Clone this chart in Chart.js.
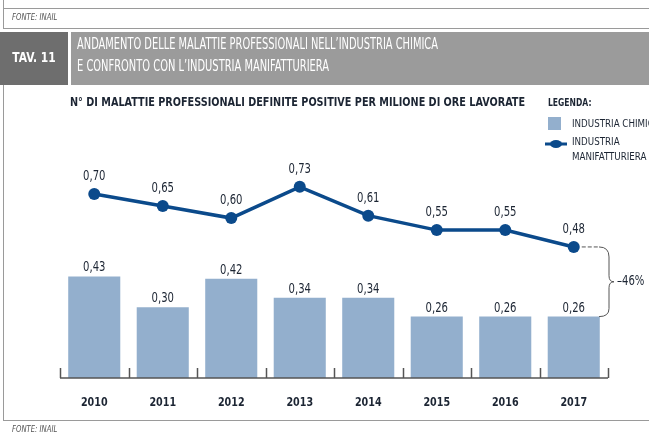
<!DOCTYPE html>
<html lang="it">
<head>
  <meta charset="UTF-8" />
  <title>TAV. 11 — Malattie professionali</title>
  <script src="https://cdn.jsdelivr.net/npm/chart.js"></script>
  <style>
    html, body { margin: 0; padding: 0; background: #fff; }
    canvas { display: block; }
  </style>
</head>
<body>
  <canvas id="tav11" width="649" height="435"></canvas>

  <script>
    // dati
    const anni = ['2010', '2011', '2012', '2013', '2014', '2015', '2016', '2017'];
    const chimica = [0.43, 0.30, 0.42, 0.34, 0.34, 0.26, 0.26, 0.26];
    const manifatturiera = [0.70, 0.65, 0.60, 0.73, 0.61, 0.55, 0.55, 0.48];
    const variazione = '\u201346%';

    const FONT = '"Liberation Sans Narrow", "DejaVu Sans Condensed", "Liberation Sans", sans-serif';
    const BAR = '#93afcd';
    const LINE = '#0b4a8b';
    const TXT = '#1c2533';

    const fmt = v => v.toFixed(2).replace('.', ',');

    // testo "stretto": comprime in larghezza di un fattore k
    function testo(ctx, s, x, y, k) {
      const w = ctx.measureText(s).width;
      ctx.fillText(s, x, y, w * k);
    }

    // intestazione, legenda, etichette e parentesi
    const decorazioni = {
      id: 'decorazioni',
      afterDraw(chart) {
        const ctx = chart.ctx;
        const area = chart.chartArea;
        const x = chart.scales.x;
        ctx.save();

        // cornici grigie
        ctx.strokeStyle = '#9a9a9a';
        ctx.lineWidth = 1;
        ctx.beginPath();
        ctx.moveTo(3.5, 0); ctx.lineTo(3.5, 28);
        ctx.moveTo(3, 8.5); ctx.lineTo(649, 8.5);
        ctx.moveTo(3, 28.5); ctx.lineTo(649, 28.5);
        ctx.moveTo(3.5, 85); ctx.lineTo(3.5, 420);
        ctx.moveTo(3, 420.5); ctx.lineTo(649, 420.5);
        ctx.stroke();

        ctx.fillStyle = '#555';
        ctx.font = 'italic 9px ' + FONT;
        ctx.textBaseline = 'middle';
        ctx.textAlign = 'left';
        testo(ctx, 'FONTE: INAIL', 12, 18, 0.85);
        testo(ctx, 'FONTE: INAIL', 12, 430, 0.85);

        // fascia titolo
        ctx.fillStyle = '#6e6e6e';
        ctx.fillRect(0, 32, 68, 53);
        ctx.fillStyle = '#9b9b9b';
        ctx.fillRect(71, 32, 578, 53);
        ctx.fillStyle = '#fff';
        ctx.font = 'bold 14px ' + FONT;
        ctx.textAlign = 'center';
        testo(ctx, 'TAV. 11', 34, 58, 0.85);
        ctx.textAlign = 'left';
        ctx.font = '16px ' + FONT;
        ctx.fillText('ANDAMENTO DELLE MALATTIE PROFESSIONALI NELL\u2019INDUSTRIA CHIMICA', 77, 45, 361);
        ctx.fillText('E CONFRONTO CON L\u2019INDUSTRIA MANIFATTURIERA', 77, 67, 252);

        // sottotitolo
        ctx.fillStyle = TXT;
        ctx.font = 'bold 13px ' + FONT;
        ctx.fillText('N\u00b0 DI MALATTIE PROFESSIONALI DEFINITE POSITIVE PER MILIONE DI ORE LAVORATE', 70, 103, 455);

        // legenda
        ctx.font = 'bold 10px ' + FONT;
        testo(ctx, 'LEGENDA:', 548, 103, 0.85);
        ctx.font = '11px ' + FONT;
        ctx.fillStyle = BAR;
        ctx.fillRect(548, 117, 13, 13);
        ctx.fillStyle = TXT;
        testo(ctx, 'INDUSTRIA CHIMICA', 572, 124, 0.88);
        ctx.strokeStyle = LINE;
        ctx.lineWidth = 3;
        ctx.beginPath();
        ctx.moveTo(545, 144); ctx.lineTo(567, 144);
        ctx.stroke();
        ctx.fillStyle = LINE;
        ctx.beginPath();
        ctx.ellipse(556, 144, 6, 4, 0, 0, Math.PI * 2);
        ctx.fill();
        ctx.fillStyle = TXT;
        testo(ctx, 'INDUSTRIA', 572, 142, 0.88);
        testo(ctx, 'MANIFATTURIERA', 572, 157, 0.88);

        // asse base con tacche
        ctx.strokeStyle = '#555';
        ctx.lineWidth = 1.5;
        ctx.beginPath();
        ctx.moveTo(area.left, area.bottom);
        ctx.lineTo(area.right, area.bottom);
        const bordi = [area.left];
        for (let i = 0; i < anni.length - 1; i++) {
          bordi.push((x.getPixelForValue(i) + x.getPixelForValue(i + 1)) / 2);
        }
        bordi.push(area.right);
        bordi.forEach(b => {
          ctx.moveTo(Math.round(b) + 0.5, area.bottom);
          ctx.lineTo(Math.round(b) + 0.5, area.bottom - 10);
        });
        ctx.stroke();

        // anni
        ctx.fillStyle = TXT;
        ctx.font = 'bold 13px ' + FONT;
        ctx.textAlign = 'center';
        anni.forEach((a, i) => testo(ctx, a, x.getPixelForValue(i), 403, 0.82));

        // valori
        ctx.font = '14px ' + FONT;
        ctx.textBaseline = 'alphabetic';
        const barre = chart.getDatasetMeta(0).data;
        barre.forEach((el, i) => testo(ctx, fmt(chimica[i]), el.x, el.y - 5, 0.8));
        const punti = chart.getDatasetMeta(1).data;
        punti.forEach((el, i) => testo(ctx, fmt(manifatturiera[i]), el.x, el.y - 14, 0.8));

        // parentesi variazione
        const p = punti[punti.length - 1];
        const b = barre[barre.length - 1];
        const bx = 609;
        const mid = (p.y + b.y) / 2;
        ctx.strokeStyle = '#555';
        ctx.lineWidth = 1;
        ctx.setLineDash([4, 2]);
        ctx.beginPath();
        ctx.moveTo(p.x + 8, p.y);
        ctx.lineTo(bx - 10, p.y);
        ctx.stroke();
        ctx.setLineDash([]);
        ctx.beginPath();
        ctx.moveTo(bx - 10, p.y);
        ctx.quadraticCurveTo(bx, p.y, bx, p.y + 10);
        ctx.lineTo(bx, mid - 6);
        ctx.quadraticCurveTo(bx, mid, bx + 5, mid);
        ctx.quadraticCurveTo(bx, mid, bx, mid + 6);
        ctx.lineTo(bx, b.y - 8);
        ctx.quadraticCurveTo(bx, b.y, bx - 10, b.y);
        ctx.stroke();
        ctx.fillStyle = TXT;
        ctx.textAlign = 'left';
        ctx.textBaseline = 'middle';
        ctx.font = '14px ' + FONT;
        testo(ctx, variazione, 617, mid, 0.8);

        ctx.restore();
      }
    };

    new Chart(document.getElementById('tav11'), {
      data: {
        labels: anni,
        datasets: [
          {
            type: 'bar',
            label: 'Industria chimica',
            data: chimica,
            backgroundColor: BAR,
            barPercentage: 0.76,
            categoryPercentage: 1,
            yAxisID: 'y',
            order: 2
          },
          {
            type: 'line',
            label: 'Industria manifatturiera',
            data: manifatturiera,
            borderColor: LINE,
            backgroundColor: LINE,
            borderWidth: 3.5,
            pointRadius: 6,
            pointBackgroundColor: LINE,
            pointBorderWidth: 0,
            tension: 0,
            fill: false,
            yAxisID: 'y1',
            order: 1
          }
        ]
      },
      options: {
        responsive: false,
        animation: false,
        layout: { padding: { left: 60, right: 41, top: 170, bottom: 57 } },
        plugins: { legend: { display: false }, tooltip: { enabled: false } },
        scales: {
          x: { display: false },
          y: { display: false, min: 0, max: 0.881 },
          y1: { display: false, min: -0.065, max: 0.80 }
        }
      },
      plugins: [decorazioni]
    });
  </script>
</body>
</html>
